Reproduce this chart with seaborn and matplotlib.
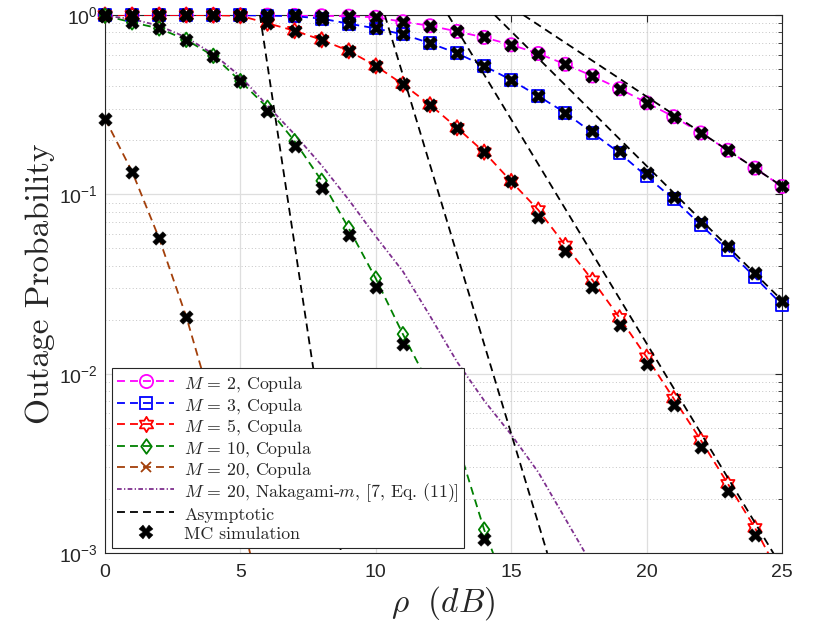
import matplotlib
matplotlib.use("Agg")
import matplotlib.pyplot as plt
import seaborn as sns
import numpy as np
import pandas as pd
from matplotlib.path import Path
from matplotlib.lines import Line2D
from matplotlib.font_manager import FontProperties
from matplotlib.ticker import LogLocator, NullFormatter, FixedLocator

# ---------------- data ----------------
rho = list(range(26))  # dB

p_m2 = [1.0, 1.0, 1.0, 1.0, 1.0, 0.999, 0.998, 0.995, 0.99, 0.985, 0.971,
        0.917, 0.871, 0.810, 0.750, 0.682, 0.610, 0.531, 0.457, 0.388, 0.324,
        0.271, 0.220, 0.176, 0.140, 0.1106]
p_m3 = [1.0, 1.0, 1.0, 1.0, 0.999, 0.998, 0.993, 0.985, 0.955, 0.895, 0.842,
        0.780, 0.697, 0.612, 0.520, 0.434, 0.353, 0.285, 0.220, 0.170, 0.126,
        0.0938, 0.0675, 0.0488, 0.0345, 0.0242]
p_m5 = [1.0, 1.0, 1.0, 1.0, 0.998, 0.99, 0.90, 0.817, 0.727, 0.631, 0.520,
        0.411, 0.316, 0.235, 0.172, 0.118, 0.0818, 0.0519, 0.0332, 0.0205,
        0.01236, 0.00726, 0.00426, 0.00243, 0.00138, 0.00071]
p_m10 = [0.991, 0.910, 0.842, 0.727, 0.592, 0.428, 0.304, 0.198, 0.119,
         0.0647, 0.0339, 0.0166, 0.0085, 0.00417, 0.00135, 0.00054]
p_m20 = [0.264, 0.134, 0.0568, 0.0208, 0.0063, 0.00166, 0.0004]
p_naka = [0.99, 0.95, 0.871, 0.75, 0.605, 0.455, 0.312, 0.216, 0.145, 0.0933,
          0.0582, 0.0372, 0.021, 0.01164, 0.00708, 0.00457, 0.00282, 0.00155,
          0.00085]

# asymptotic lines (straight on the log axis): end points
asy_rho = {2: [15.45, 25.0], 3: [14.39, 25.0], 5: [12.67, 25.0],
           10: [10.33, 16.33], 20: [5.72, 8.72]}
asy_p = {2: [1.0, 0.111], 3: [1.0, 0.0256], 5: [1.0, 0.00083],
         10: [1.0, 0.001], 20: [1.0, 0.001]}

# Monte-Carlo simulation points
mc_m2 = p_m2
mc_m3 = [1.0, 1.0, 1.0, 1.0, 0.999, 0.998, 0.993, 0.985, 0.955, 0.895, 0.842,
         0.780, 0.697, 0.612, 0.520, 0.434, 0.353, 0.285, 0.225, 0.174, 0.1315,
         0.0972, 0.0704, 0.0514, 0.0362, 0.0254]
mc_m5 = [1.0, 1.0, 1.0, 1.0, 0.998, 0.99, 0.90, 0.817, 0.727, 0.631, 0.520,
         0.411, 0.316, 0.235, 0.172, 0.118, 0.0751, 0.0480, 0.0304, 0.0186,
         0.01127, 0.00667, 0.00391, 0.00223, 0.00126]
mc_m10 = [0.991, 0.910, 0.842, 0.727, 0.592, 0.428, 0.291, 0.185, 0.108,
          0.0592, 0.0304, 0.0147, 0.0074, 0.0036, 0.00119]
mc_m20 = [0.264, 0.134, 0.0568, 0.0208, 0.0063, 0.00166]

labels = [r"$M\,=\,2$, Copula", r"$M\,=\,3$, Copula", r"$M\,=\,5$, Copula",
          r"$M\,=\,10$, Copula", r"$M\,=\,20$, Copula",
          r"$M\,=\,20$, Nakagami-$m$, [7, Eq. (11)]",
          "Asymptotic", "MC simulation"]

YMIN, YMAX = 1e-3, 1.0

# ---------------- style ----------------
sns.set_theme(style="white")
plt.rcParams["font.family"] = ["Liberation Sans", "DejaVu Sans"]
plt.rcParams["mathtext.fontset"] = "cm"
plt.rcParams["axes.unicode_minus"] = True

c_m2, c_m3, c_m5 = "#FF00FF", "#0000FF", "#FF0000"
c_m10, c_m20, c_naka = "#008000", "#A33F0A", "#7E2F8E"

hexagram = Path.unit_regular_star(6, 0.577)
dverts = [(0, 1), (0.72, 0), (0, -1), (-0.72, 0), (0, 1)]
diamond = Path(dverts, [Path.MOVETO, Path.LINETO, Path.LINETO, Path.LINETO, Path.CLOSEPOLY])

dash = (0, (4.4, 2.8))
dashdot = (0, (2.6, 1.3, 0.7, 1.3))
LW = 1.3

fig = plt.figure(figsize=(8.3, 6.23), dpi=100)
ax = fig.add_axes([0.1265, 0.1124, 0.8157, 0.8635])

series = [
    (p_m2, c_m2, "o", 9.5),
    (p_m3, c_m3, "s", 8.5),
    (p_m5, c_m5, hexagram, 11),
    (p_m10, c_m10, diamond, 10.5),
    (p_m20, c_m20, "x", 7),
]
handles = []
for vals, col, mk, ms in series:
    xs = rho[:len(vals)]
    sns.lineplot(x=xs, y=vals, ax=ax, color=col, linestyle=dash,
                 linewidth=LW, errorbar=None, sort=False, zorder=3)
    df = pd.DataFrame({"rho": xs, "p": vals})
    df = df[(df["p"] >= YMIN) & (df["p"] <= YMAX)]
    if mk == "x":
        sns.scatterplot(data=df, x="rho", y="p", ax=ax, marker=mk, s=ms ** 2,
                        color=col, linewidth=1.3, zorder=3.5, legend=False,
                        clip_on=False)
    else:
        sns.scatterplot(data=df, x="rho", y="p", ax=ax, marker=mk, s=ms ** 2,
                        facecolor="none", edgecolor=col, linewidth=1.3,
                        zorder=3.5, legend=False, clip_on=False)
    handles.append(Line2D([], [], color=col, linestyle=dash, linewidth=LW,
                          marker=mk, markersize=ms, markerfacecolor="none",
                          markeredgecolor=col, markeredgewidth=1.3))

sns.lineplot(x=rho[:len(p_naka)], y=p_naka, ax=ax, color=c_naka,
             linestyle=dashdot, linewidth=1.3, errorbar=None, sort=False, zorder=3)
handles.append(Line2D([], [], color=c_naka, linestyle=dashdot, linewidth=1.3))

for m in [2, 3, 5, 10, 20]:
    sns.lineplot(x=asy_rho[m], y=asy_p[m], ax=ax, color="black", linestyle=dash,
                 linewidth=LW, errorbar=None, sort=False, zorder=4)
handles.append(Line2D([], [], color="black", linestyle=dash, linewidth=LW))

mc_all = pd.DataFrame({
    "rho": rho[:len(mc_m2)] + rho[:len(mc_m3)] + rho[:len(mc_m5)]
           + rho[:len(mc_m10)] + rho[:len(mc_m20)],
    "p": mc_m2 + mc_m3 + mc_m5 + mc_m10 + mc_m20,
})
mc_all = mc_all[(mc_all["p"] >= YMIN) & (mc_all["p"] <= YMAX)]
sns.scatterplot(data=mc_all, x="rho", y="p", ax=ax, marker="X", s=95,
                color="black", edgecolor="black", linewidth=0.3, zorder=6,
                legend=False, clip_on=False)
handles.append(Line2D([], [], linestyle="none", marker="X", markersize=9.5,
                      color="black", markeredgecolor="black", markeredgewidth=0.3))

# ---------------- axes ----------------
ax.set_yscale("log")
ax.set_xlim(0, 25)
ax.set_ylim(YMIN, YMAX)
ax.xaxis.set_major_locator(FixedLocator([0, 5, 10, 15, 20, 25]))
ax.yaxis.set_major_locator(LogLocator(base=10, numticks=10))
ax.yaxis.set_minor_locator(LogLocator(base=10, subs=np.arange(2, 10), numticks=20))
ax.yaxis.set_minor_formatter(NullFormatter())

ax.grid(True, which="major", axis="both", color="#DEDEDE", linewidth=0.9, linestyle="-")
ax.grid(True, which="minor", axis="y", color="#C4C4C4", linewidth=0.7,
        linestyle=(0, (1, 2.5)))
ax.set_axisbelow(True)

for sp in ax.spines.values():
    sp.set_visible(True)
    sp.set_color("#262626")
    sp.set_linewidth(0.8)

ax.tick_params(which="both", direction="in", top=True, right=True,
               colors="#262626", labelsize=14, labelcolor="#262626")
ax.tick_params(which="major", length=5, width=0.8)
ax.tick_params(which="minor", length=3, width=0.6)
ax.tick_params(axis="x", which="major", pad=8)
ax.tick_params(axis="y", which="major", pad=5)

ax.set_ylabel("Outage Probability", fontfamily="cmr10", fontsize=24, color="#262626")
ax.yaxis.set_label_coords(-0.074, 0.5)
ax.set_xlabel(r"$\rho\ \ (dB)$", fontsize=24, color="#262626")
ax.xaxis.set_label_coords(0.5, -0.058)

fp = FontProperties(family="cmr10", size=12.8, math_fontfamily="cm")
leg = ax.legend(handles, labels, loc="lower left", bbox_to_anchor=(0.0103, 0.0093),
                borderaxespad=0, frameon=True, fancybox=False, framealpha=1,
                edgecolor="#262626", prop=fp, handlelength=3.2, handleheight=1.24,
                handletextpad=0.55, labelspacing=0.04, borderpad=0.3, numpoints=1)
leg.get_frame().set_linewidth(0.8)
leg.set_zorder(10)

fig.savefig("out.png", dpi=100)
